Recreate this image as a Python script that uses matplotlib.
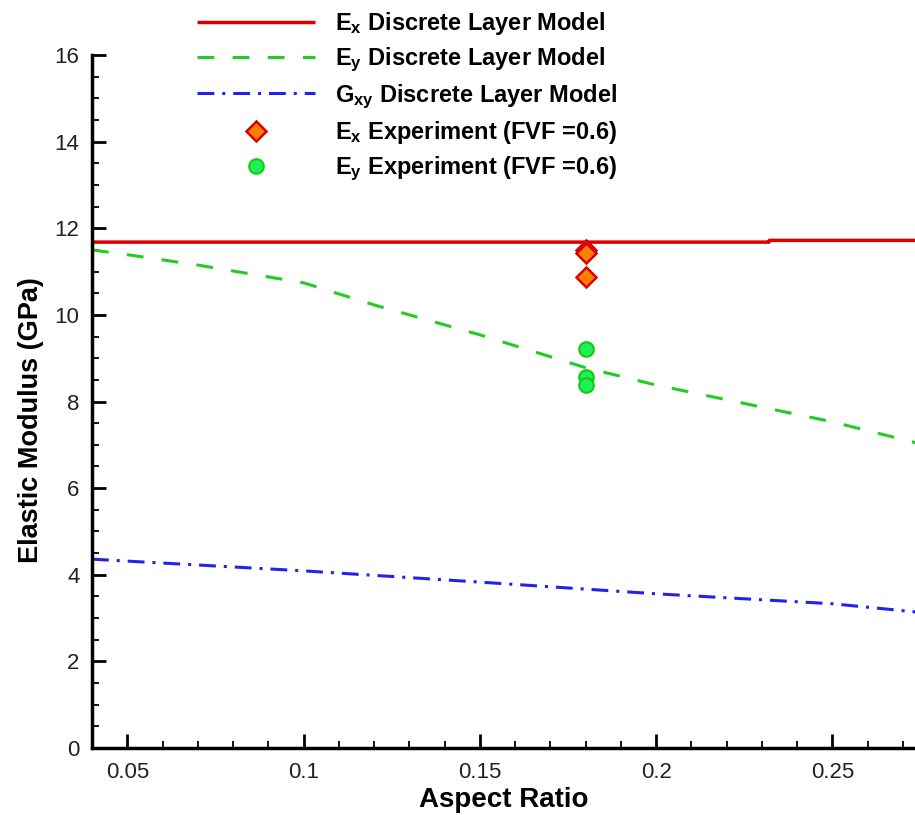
import matplotlib
matplotlib.use("Agg")
import matplotlib.pyplot as plt
from matplotlib.ticker import MultipleLocator

plt.rcParams['font.family'] = ['Liberation Sans', 'DejaVu Sans']
plt.rcParams['mathtext.fontset'] = 'custom'
plt.rcParams['mathtext.rm'] = 'Liberation Sans:bold'
plt.rcParams['mathtext.it'] = 'Liberation Sans:bold'

# Model curves
ex_x = [0.04, 0.232, 0.2321, 0.28]
ex_y = [11.68, 11.68, 11.72, 11.72]

ey_x = [0.04, 0.05, 0.07, 0.10, 0.12, 0.15, 0.18, 0.20, 0.25, 0.275]
ey_y = [11.50, 11.39, 11.15, 10.74, 10.23, 9.54, 8.78, 8.38, 7.53, 7.02]

gxy_x = [0.04, 0.10, 0.15, 0.20, 0.25, 0.275]
gxy_y = [4.36, 4.09, 3.83, 3.56, 3.33, 3.13]

# Experiments
exp_ex_x = [0.18, 0.18, 0.18]
exp_ex_y = [11.50, 11.43, 10.88]
exp_ey_x = [0.18, 0.18, 0.18]
exp_ey_y = [9.21, 8.56, 8.38]

fig = plt.figure(figsize=(9.15, 8.15), dpi=100)
ax = fig.add_axes([92/915, 1-748/815, 1-92/915, (748-55)/815])

lw = 2.2
l1, = ax.plot(ex_x, ex_y, color='#dd0000', lw=lw + 0.3, solid_capstyle='butt')
l2, = ax.plot(ey_x, ey_y, color='#22cc22', lw=lw, dashes=(5.5, 6))
l3, = ax.plot(gxy_x, gxy_y, color='#2222ee', lw=lw, dashes=(5.5, 2.6, 1, 2.6))
m1, = ax.plot(exp_ex_x, exp_ex_y, ls='none', marker='D', ms=10,
              mfc='#ff8000', mec='#dd0000', mew=1.8)
m2, = ax.plot(exp_ey_x, exp_ey_y, ls='none', marker='o', ms=10.5,
              mfc='#22ee55', mec='#11cc11', mew=1.5)

ax.set_xlim(0.04, 0.2734)
ax.set_ylim(0, 16)
ax.xaxis.set_major_locator(MultipleLocator(0.05))
ax.xaxis.set_minor_locator(MultipleLocator(0.01))
ax.yaxis.set_major_locator(MultipleLocator(2))
ax.yaxis.set_minor_locator(MultipleLocator(0.5))
ax.set_xticks([0.05, 0.1, 0.15, 0.2, 0.25])
ax.set_xticklabels(['0.05', '0.1', '0.15', '0.2', '0.25'])

for s in ['top', 'right']:
    ax.spines[s].set_visible(False)
for s in ['left', 'bottom']:
    ax.spines[s].set_linewidth(2.5)
ax.tick_params(which='major', direction='in', length=10, width=2, labelsize=16,
               labelcolor='#222222')
ax.tick_params(axis='x', which='major', pad=10)
ax.tick_params(axis='y', which='major', pad=9)
ax.tick_params(which='minor', direction='in', length=5, width=1.3)

ax.set_xlabel('Aspect Ratio', fontsize=20, fontweight='bold', labelpad=3)
ax.set_ylabel('Elastic Modulus (GPa)', fontsize=19.5, fontweight='bold', labelpad=6)
ax.yaxis.set_label_coords(-0.058, 0.473)

labels = [r'E$_{\mathregular{x}}$ Discrete Layer Model',
          r'E$_{\mathregular{y}}$ Discrete Layer Model',
          r'G$_{\mathregular{xy}}$ Discrete Layer Model',
          r'E$_{\mathregular{x}}$ Experiment (FVF =0.6)',
          r'E$_{\mathregular{y}}$ Experiment (FVF =0.6)']
leg = fig.legend([l1, l2, l3, m1, m2], labels, loc='upper left',
                 bbox_to_anchor=(176/915, 1.014), frameon=False, numpoints=1,
                 handlelength=5.0, handletextpad=0.85, labelspacing=0.36,
                 prop={'weight': 'bold', 'size': 17})

fig.savefig('out.png', dpi=100)
